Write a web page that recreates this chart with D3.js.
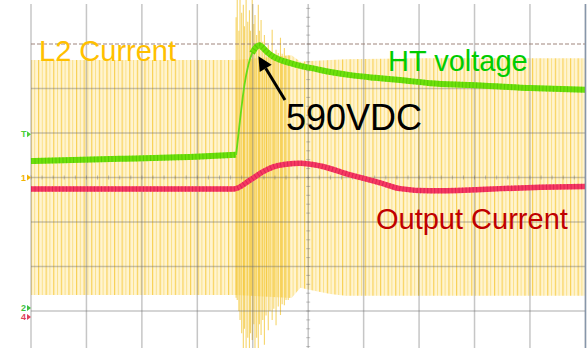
<!DOCTYPE html>
<html>
<head>
<meta charset="utf-8">
<script src="https://cdn.jsdelivr.net/npm/d3@7"></script>
<style>
  html, body { margin: 0; padding: 0; background: #fff; }
  svg { display: block; font-family: "Liberation Sans", Arial, sans-serif; }
</style>
</head>
<body>
<svg id="scope" width="587" height="348"></svg>
<script>
// Scope capture: time and amplitude are both in screen divisions.

// HT voltage (green trace)
const htTime  = [0, 1.61, 3.05, 3.70, 3.77, 3.85, 3.92, 3.99, 4.06, 4.12, 4.17, 4.24, 4.35, 4.50, 4.68, 4.86, 5.13, 5.40, 5.76, 6.21, 6.66, 7.20, 7.92, 9.01, 10];
const htLevel = [0.37, 0.42, 0.47, 0.51, 1.29, 2.08, 2.53, 2.80, 2.93, 2.97, 2.93, 2.84, 2.73, 2.64, 2.57, 2.51, 2.44, 2.37, 2.30, 2.24, 2.19, 2.12, 2.08, 2.01, 1.97];

// Output current (red trace)
const outTime  = [0, 2.15, 3.65, 3.95, 4.17, 4.37, 4.60, 4.86, 5.22, 5.76, 6.30, 6.66, 7.20, 7.92, 8.47, 9.19, 10];
const outLevel = [-0.26, -0.26, -0.26, -0.06, 0.12, 0.24, 0.30, 0.32, 0.26, 0.06, -0.12, -0.25, -0.30, -0.28, -0.25, -0.22, -0.20];

// L2 current (yellow trace): switching envelope
const envTime   = [0, 3.70, 4.70, 4.86, 5.04, 5.40, 5.67, 7.00, 10];
const envTop    = [2.64, 2.64, 2.75, 2.60, 2.62, 2.64, 2.66, 2.68, 2.68];
const envBottom = [-2.64, -2.64, -2.71, -2.48, -2.53, -2.62, -2.66, -2.66, -2.66];

// L2 current ringing cycles at the load step
const burstTime   = [3.70, 3.72, 3.75, 3.77, 3.80, 3.83, 3.85, 3.88, 3.91, 3.94, 3.96, 3.99, 4.02, 4.04, 4.07, 4.10, 4.12, 4.15, 4.18, 4.21, 4.24, 4.28, 4.31, 4.35, 4.38, 4.42, 4.46, 4.50, 4.53, 4.57, 4.60, 4.64];
const burstTop    = [3.60, 3.99, 3.30, 3.99, 3.70, 3.88, 3.40, 3.99, 3.50, 3.76, 3.30, 3.99, 3.45, 3.65, 3.20, 3.88, 3.30, 3.54, 3.05, 3.20, 2.90, 2.98, 2.85, 3.32, 2.80, 2.87, 2.80, 3.14, 2.78, 2.91, 2.74, 2.75];
const burstBottom = [-2.70, -2.75, -3.00, -3.20, -3.50, -3.83, -3.40, -3.83, -3.60, -3.83, -3.50, -3.65, -3.30, -3.83, -3.60, -3.83, -3.30, -3.54, -3.20, -3.76, -3.10, -3.43, -3.00, -3.20, -2.95, -3.32, -2.90, -3.09, -2.85, -2.87, -2.75, -2.75];

// Graticule
const vDivs = d3.range(0, 11);
const hDivs = [3, 2, 1, 0, -1, -2, -3];

const svg = d3.select("#scope");
const x = d3.scaleLinear().domain([0, 10]).range([31, 585.4]);
const y = d3.scaleLinear().domain([-4, 4]).range([355.5, -0.5]);

const defs = svg.append("defs");
const pat = defs.append("pattern")
  .attr("id", "switching")
  .attr("patternUnits", "userSpaceOnUse")
  .attr("width", 7.6).attr("height", 10);
pat.append("rect").attr("width", 7.6).attr("height", 10).attr("fill", "#fff4d0");
pat.append("rect").attr("x", 0).attr("width", 1.2).attr("height", 10).attr("fill", "#f5c52e").attr("opacity", 0.75);
pat.append("rect").attr("x", 3.8).attr("width", 1.0).attr("height", 10).attr("fill", "#f7d258").attr("opacity", 0.6);

// Yellow switching band
const env = envTime.map((t, i) => ({ t, hi: envTop[i], lo: envBottom[i] }));
svg.append("path")
  .datum(env)
  .attr("fill", "url(#switching)")
  .attr("d", d3.area().x(d => x(d.t)).y0(d => y(d.lo)).y1(d => y(d.hi)));

// Ringing at the step
const burst = burstTime.map((t, i) => ({ t, hi: Math.min(burstTop[i], 3.99), lo: burstBottom[i] }));
svg.append("g").selectAll("line")
  .data(burst).join("line")
  .attr("x1", d => x(d.t)).attr("x2", d => x(d.t))
  .attr("y1", d => y(d.hi)).attr("y2", d => y(d.lo))
  .attr("stroke", "#f4c83a").attr("stroke-width", 1.1).attr("opacity", 0.75);

// Graticule drawn over the band so it tints where it crosses the yellow
const grid = svg.append("g");
grid.selectAll("line.v").data(vDivs).join("line")
  .attr("class", "v")
  .attr("x1", d => x(d)).attr("x2", d => x(d))
  .attr("y1", 4).attr("y2", 348)
  .attr("stroke", "rgba(105,105,105,0.38)").attr("stroke-width", 1.5);
grid.selectAll("line.h").data(hDivs).join("line")
  .attr("class", "h")
  .attr("x1", x(0)).attr("x2", x(10))
  .attr("y1", d => y(d)).attr("y2", d => y(d))
  .attr("stroke", d => d === 3 ? "rgba(150,120,110,0.6)" : "rgba(105,105,105,0.38)")
  .attr("stroke-width", 1.5)
  .attr("stroke-dasharray", d => d === 3 ? "4,2" : null);

// Minor ticks on the centre axes
grid.selectAll("line.mx").data(d3.range(0, 51)).join("line")
  .attr("x1", d => x(d / 5)).attr("x2", d => x(d / 5))
  .attr("y1", y(0) - 2).attr("y2", y(0) + 2)
  .attr("stroke", "rgba(105,105,105,0.4)").attr("stroke-width", 1);
grid.selectAll("line.my").data(d3.range(-20, 21)).join("line")
  .attr("x1", x(5) - 2).attr("x2", x(5) + 2)
  .attr("y1", d => y(d / 5)).attr("y2", d => y(d / 5))
  .attr("stroke", "rgba(105,105,105,0.4)").attr("stroke-width", 1);

// Output current trace
const out = outTime.map((t, i) => ({ t, v: outLevel[i] }));
const outLine = d3.line().x(d => x(d.t)).y(d => y(d.v)).curve(d3.curveMonotoneX);
svg.append("path").datum(out).attr("d", outLine)
  .attr("fill", "none").attr("stroke", "#f63a62").attr("stroke-width", 5.5);
svg.append("path").datum(out).attr("d", outLine)
  .attr("fill", "none").attr("stroke", "#c8104e").attr("stroke-width", 5.5)
  .attr("stroke-dasharray", "1,2.5").attr("opacity", 0.5);

// HT voltage trace: thin on the fast edge, thick elsewhere
const ht = htTime.map((t, i) => ({ t, v: htLevel[i] }));
const htLine = d3.line().x(d => x(d.t)).y(d => y(d.v)).curve(d3.curveMonotoneX);
const before = ht.filter(d => d.t <= 3.70);
const edge = ht.filter(d => d.t >= 3.70 && d.t <= 3.99);
const after = ht.filter(d => d.t >= 3.99);
svg.append("path").datum(edge).attr("d", htLine)
  .attr("fill", "none").attr("stroke", "#66dc18").attr("stroke-width", 1.8);
[before, after].forEach(seg => {
  svg.append("path").datum(seg).attr("d", htLine)
    .attr("fill", "none").attr("stroke", "#6ee00c").attr("stroke-width", 6);
  svg.append("path").datum(seg).attr("d", htLine)
    .attr("fill", "none").attr("stroke", "#3fb400").attr("stroke-width", 6)
    .attr("stroke-dasharray", "1,2.5").attr("opacity", 0.45);
});

// Channel markers on the left edge
const marks = svg.append("g").attr("font-size", 9).attr("font-weight", "bold");
function marker(level, label, color, dy) {
  const yy = y(level) + dy;
  marks.append("text").attr("x", 21).attr("y", yy + 3).attr("fill", color).text(label);
  marks.append("path")
    .attr("d", `M${27},${yy - 3}L${31},${yy}L${27},${yy + 3}Z`)
    .attr("fill", color);
}
marker(0.97, "T", "#4fcf3a", 0);
marker(0, "1", "#f2b400", 0);
marker(-3, "2", "#3fc03f", -3);
marker(-3, "4", "#e0405a", 6);

// Labels
svg.append("text").attr("x", 39).attr("y", 61)
  .attr("font-size", 29).attr("fill", "#ffc000").text("L2 Current");
svg.append("text").attr("x", 388).attr("y", 71)
  .attr("font-size", 29).attr("fill", "#00cc00").text("HT voltage");
svg.append("text").attr("x", 376).attr("y", 229)
  .attr("font-size", 29).attr("fill", "#c00000").text("Output Current");
svg.append("text").attr("x", 286).attr("y", 130)
  .attr("font-size", 36).attr("fill", "#000").text("590VDC");

// Arrow to the HT peak
const peak = ht.reduce((a, b) => (b.v > a.v ? b : a));
const tip = [x(peak.t) - 1, y(peak.v) + 11];
const tail = [285, 100];
const ang = Math.atan2(tip[1] - tail[1], tip[0] - tail[0]);
const headLen = 14, headW = 7;
const base = [tip[0] - headLen * Math.cos(ang), tip[1] - headLen * Math.sin(ang)];
svg.append("line")
  .attr("x1", tail[0]).attr("y1", tail[1]).attr("x2", base[0]).attr("y2", base[1])
  .attr("stroke", "#000").attr("stroke-width", 3);
svg.append("path")
  .attr("d", `M${tip[0]},${tip[1]}L${base[0] + headW * Math.sin(ang)},${base[1] - headW * Math.cos(ang)}L${base[0] - headW * Math.sin(ang)},${base[1] + headW * Math.cos(ang)}Z`)
  .attr("fill", "#000");

// Right frame edge
svg.append("line").attr("x1", 585.5).attr("x2", 585.5).attr("y1", 4).attr("y2", 348)
  .attr("stroke", "#8796aa").attr("stroke-width", 1.5);
</script>
</body>
</html>
